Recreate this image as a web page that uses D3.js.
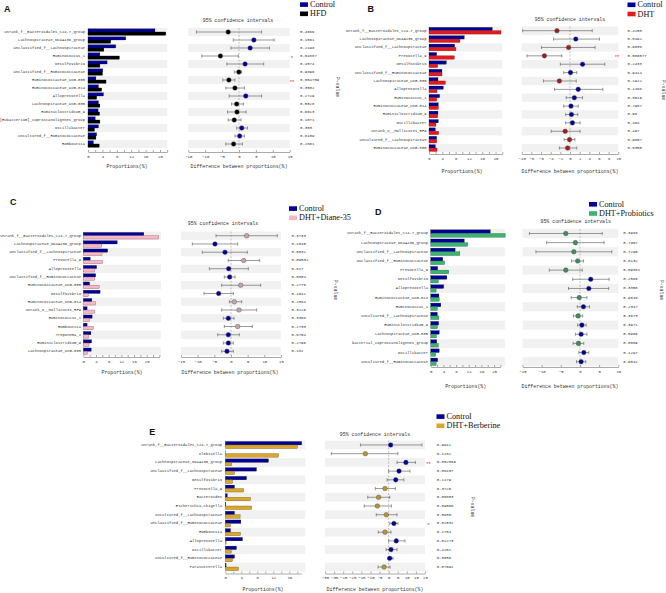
<!DOCTYPE html>
<html><head><meta charset="utf-8">
<script src="https://cdn.jsdelivr.net/npm/d3@7"></script>
<style>body{margin:0;background:#fff}svg{display:block}</style>
</head><body>
<svg id="c" width="666" height="593"></svg>
<script>
// ---------- Panel A : Control vs HFD ----------
const taxaA = ["unrank_f__Bacteroidales_S24-7_group","Lachnospiraceae_NK4A136_group","Unclassified_f__Lachnospiraceae","Ruminococcus_1","Desulfovibrio","Unclassified_f__Ruminococcaceae","Ruminococcaceae_UCG-005","Ruminococcaceae_UCG-014","Alloprevotella","Lachnospiraceae_UCG-005","Ruminiclostridium_9","[Eubacterium]_coprostanoligenes_group","Oscillibacter","uncultured_f__Ruminococcaceae","Romboutsia"];
const ctrlA = [18.6,10.5,7.7,3.3,5.3,4.1,2.2,2.9,4.3,2.9,2.8,2.0,2.9,2.4,1.5];
const hfdA  = [21.6,6.3,4.4,8.7,3.3,4.0,5.0,3.8,2.4,3.3,3.2,3.3,1.8,2.2,3.1];
const diffA = [-3.2,4.4,3.3,-5.5,1.8,-0.05,-3.0,-1.2,2.0,-0.7,-0.6,-1.4,0.8,0.2,-1.6];
const lowA  = [-12.6,-1.7,-2.4,-11.0,-3.6,-1.4,-4.8,-3.9,-2.9,-2.2,-3.4,-3.2,-0.7,-1.2,-3.9];
const highA = [6.7,10.4,9.0,-0.2,7.3,0.8,-1.2,1.6,6.7,1.3,2.1,0.6,2.5,1.6,1.0];
const pA    = ["0.4666","0.1561","0.2198","0.04887","0.4574","0.9896","0.004709","0.3502","0.2729","0.5028","0.6613","0.1071","0.303","0.8109","0.2661"];
const starA = ["","","","*","","","**","","","","","","","",""];

// ---------- Panel B : Control vs DHT ----------
const taxaB = ["unrank_f__Bacteroidales_S24-7_group","Lachnospiraceae_NK4A136_group","Unclassified_f__Lachnospiraceae","Prevotella_9","Desulfovibrio","Unclassified_f__Ruminococcaceae","Lachnospiraceae_UCG-005","Alloprevotella","Ruminococcus_1","Ruminococcaceae_UCG-014","Ruminiclostridium_9","Oscillibacter","unrank_o__Mollicutes_RF9","uncultured_f__Lachnospiraceae","Ruminococcaceae_UCG-005"];
const ctrlB = [19.0,10.6,7.7,2.3,5.2,3.9,2.7,4.3,3.2,2.8,2.7,2.8,1.9,2.3,1.9];
const dhtB  = [21.6,9.3,8.1,7.6,2.6,3.9,4.9,2.4,2.3,2.8,2.6,2.1,2.9,2.3,2.4];
const diffB = [-2.7,1.2,-0.3,-5.3,2.6,0.1,-2.2,1.7,0.9,0.2,0.3,0.5,-1.0,-0.1,-0.5];
const lowB  = [-9.8,-3.4,-5.9,-8.9,-2.0,-1.3,-5.5,-3.2,-0.8,-1.3,-0.9,-0.9,-3.9,-1.2,-2.2];
const highB = [4.6,6.1,5.2,-1.7,7.2,1.4,1.3,6.8,2.6,1.7,1.6,2.1,2.1,1.0,1.4];
const pB    = ["0.4250","0.5492","0.9038","0.006577","0.2433","0.9414","0.1922","0.1468","0.3619","0.7967","0.96","0.464","0.497","0.9657","0.6350"];
const starB = ["","","","**","","","","","","","","","","",""];

// ---------- Panel C : Control vs DHT+Diane-35 ----------
const taxaC = ["unrank_f__Bacteroidales_S24-7_group","Lachnospiraceae_NK4A136_group","Unclassified_f__Lachnospiraceae","Prevotella_9","Alloprevotella","Unclassified_f__Ruminococcaceae","Ruminococcaceae_UCG-005","Desulfovibrio","Ruminococcaceae_UCG-014","unrank_o__Mollicutes_RF9","Ruminococcus_1","Romboutsia","Treponema_2","Ruminiclostridium_9","Lachnospiraceae_UCG-005"];
const ctrlC  = [19.1,10.7,7.7,2.2,4.2,3.9,2.0,5.3,2.7,1.2,2.8,1.2,2.4,2.6,2.5];
const dianeC = [23.8,5.8,5.9,6.1,3.6,3.6,5.0,1.6,3.9,3.6,2.0,3.2,1.6,1.8,1.3];
const diffC  = [4.7,-4.8,-1.8,3.8,-0.7,-0.4,2.9,-3.7,1.0,2.4,-0.8,2.0,-0.8,-0.8,-1.2];
const lowC   = [-4.5,-11.6,-8.6,-0.8,-6.5,-2.0,-2.8,-8.1,-0.5,-2.8,-2.3,-2.0,-4.0,-2.3,-2.8];
const highC  = [13.9,2.0,4.9,8.6,5.2,1.2,8.9,0.7,3.2,7.7,0.9,6.4,2.5,0.7,0.7];
const pC     = ["0.3733","0.1645","0.5632","0.09532","0.817","0.5804","0.2776","0.1042","0.2664","0.3226","0.3368","0.2733","0.6704","0.2796","0.182"];
const starC  = ["","","","","","","","","","","","","","",""];

// ---------- Panel D : Control vs DHT+Probiotics ----------
const taxaD = ["unrank_f__Bacteroidales_S24-7_group","Lachnospiraceae_NK4A136_group","Unclassified_f__Lachnospiraceae","Unclassified_f__Ruminococcaceae","Prevotella_9","Desulfovibrio","Alloprevotella","Ruminococcaceae_UCG-014","Ruminococcus_1","uncultured_f__Lachnospiraceae","Ruminiclostridium_9","Lachnospiraceae_UCG-005","bacterial_coprostanoligenes_group","Oscillibacter","uncultured_f__Ruminococcaceae"];
const ctrlD = [18.8,10.6,7.7,3.8,2.2,5.1,4.1,2.6,3.2,2.1,2.5,2.7,1.9,2.7,2.2];
const probD = [23.5,11.7,9.2,4.4,5.7,2.4,1.7,2.7,2.1,2.6,2.1,1.8,2.4,1.6,1.7];
const diffD = [-3.7,-1.2,-1.6,-0.6,-3.7,2.8,2.3,-0.2,0.9,-0.5,0.5,0.3,-0.4,1.0,0.3];
const lowD  = [-13.2,-8.7,-11.5,-2.2,-8.0,-1.9,-3.0,-2.3,-0.7,-1.7,-0.6,-1.2,-1.8,-0.3,-0.9];
const highD = [5.8,6.3,8.3,0.9,0.6,7.6,7.5,1.8,2.5,0.7,1.6,1.8,1.0,2.3,1.5];
const pD    = ["0.3988","0.7307","0.7295","0.6132","0.09861","0.2566","0.3358","0.9646","0.2347","0.3673","0.3971","0.6966","0.5609","0.1297","0.6041"];
const starD = ["","","","","","","","","","","","","","",""];

// ---------- Panel E : Control vs DHT+Berberine ----------
const taxaE = ["unrank_f__Bacteroidales_S24-7_group","Klebsiella","Lachnospiraceae_NK4A136_group","Unclassified_f__Lachnospiraceae","Desulfovibrio","Prevotella_9","Bacteroides","Escherichia-Shigella","uncultured_f__Lachnospiraceae","Unclassified_f__Ruminococcaceae","Romboutsia","Alloprevotella","Oscillibacter","uncultured_f__Ruminococcaceae","Parasutterella"];
const ctrlE = [19.1,0.05,10.8,7.8,5.3,2.3,0.5,0.15,2.3,3.9,1.3,4.3,2.8,2.3,0.2];
const berbE = [18.0,13.3,1.6,2.3,1.8,4.6,6.3,6.6,3.7,1.3,3.8,0.2,1.5,1.8,3.3];
const diffE = [1.1,-12.8,9.5,5.7,3.9,-2.0,-5.5,-6.2,-1.3,2.9,-2.0,4.2,1.3,0.6,-2.5];
const lowE  = [-15.5,-31.5,4.6,0.0,-0.9,-7.3,-11.5,-13.4,-6.8,0.6,-5.7,0.0,-1.4,-0.5,-5.8];
const highE = [18.3,5.1,14.7,11.7,8.4,3.7,0.6,1.5,4.6,5.1,1.3,9.0,4.6,2.4,0.8];
const pE    = ["0.9911","0.1132","0.002589","0.06157","0.1179","0.3726","0.06853","0.09066","0.5635","0.02532","0.1704","0.02273","0.4251","0.5036","0.07691"];
const starE = ["","","**","","","","","","","*","","","","",""];

const groupNames = ["HFD","DHT","DHT+Diane-35","DHT+Probiotics","DHT+Berberine"];

// ---------- drawing ----------
const svg = d3.select("#c");
const MONO = "'Liberation Mono','DejaVu Sans Mono',monospace";
const SERIF = "'Liberation Serif','Times New Roman',serif";
const SANS = "'Liberation Sans',Arial,sans-serif";
const CTRL = "#000099";
const TXT = "#333";

function panel(L, D) {
  const g = svg.append("g");
  const n = D.taxa.length;
  const y = d3.scaleBand().domain(d3.range(n)).range([L.top, L.bottom]);
  const bw = y.bandwidth();
  const cy = i => y(i) + bw / 2;
  const x = d3.scaleLinear().domain([0, L.axisMax]).range([L.barX0, L.barX0 + L.axisMax * L.ppu]);
  const xc = d3.scaleLinear().domain(L.ciDom).range(L.ciRange);
  const stripes = d3.range(0, n, 2);

  g.append("g").selectAll("rect").data(stripes).join("rect")
    .attr("x", x(0)).attr("width", x(L.bgMax) - x(0))
    .attr("y", i => y(i)).attr("height", bw).attr("fill", "#f1f1f1");
  g.append("g").selectAll("rect").data(stripes).join("rect")
    .attr("x", xc.range()[0]).attr("width", xc.range()[1] - xc.range()[0])
    .attr("y", i => y(i)).attr("height", bw).attr("fill", "#f1f1f1");

  const bh = bw * 0.4;
  g.append("g").selectAll("rect").data(D.ctrl).join("rect")
    .attr("x", x(0)).attr("y", (d, i) => cy(i) - bh)
    .attr("width", d => x(d) - x(0)).attr("height", bh)
    .attr("fill", CTRL).attr("stroke", "#111").attr("stroke-width", 0.25);
  g.append("g").selectAll("rect").data(D.grp).join("rect")
    .attr("x", x(0)).attr("y", (d, i) => cy(i))
    .attr("width", d => x(d) - x(0)).attr("height", bh)
    .attr("fill", D.color).attr("stroke", D.stroke).attr("stroke-width", 0.35);

  g.append("g").selectAll("text").data(D.taxa).join("text")
    .attr("x", L.labelX).attr("y", (d, i) => cy(i))
    .attr("text-anchor", "end").attr("dominant-baseline", "central")
    .attr("font-family", MONO).attr("font-size", 3.85).attr("fill", TXT)
    .text(d => d);

  const ax = d3.axisBottom(x)
    .tickValues(d3.range(0, L.axisMax + 0.01, 2))
    .tickFormat(d => (d % 4 === 0 && d <= L.labelMax) ? d : "")
    .tickSizeInner(-2).tickSizeOuter(0).tickPadding(3);
  const axg = g.append("g").attr("transform", `translate(0,${L.axisY})`).call(ax)
    .attr("font-family", MONO).attr("font-size", 4);
  axg.selectAll("path,line").attr("stroke", "#555").attr("stroke-width", 0.5);
  axg.selectAll("text").attr("fill", TXT);

  const cax = d3.axisBottom(xc)
    .tickValues(d3.range(L.ciDom[0], L.ciDom[1] + 0.01, L.ciStep))
    .tickSizeInner(-2).tickSizeOuter(0).tickPadding(3);
  const caxg = g.append("g").attr("transform", `translate(0,${L.axisY})`).call(cax)
    .attr("font-family", MONO).attr("font-size", 4);
  caxg.selectAll("path,line").attr("stroke", "#555").attr("stroke-width", 0.5);
  caxg.selectAll("text").attr("fill", TXT);

  g.append("line").attr("x1", xc(0)).attr("x2", xc(0))
    .attr("y1", L.top).attr("y2", L.bottom)
    .attr("stroke", "#888").attr("stroke-width", 0.5).attr("stroke-dasharray", "2,1.5");

  const idx = d3.range(n);
  g.append("g").selectAll("line").data(idx).join("line")
    .attr("x1", i => xc(D.low[i])).attr("x2", i => xc(D.high[i]))
    .attr("y1", cy).attr("y2", cy).attr("stroke", "#555").attr("stroke-width", 0.6);
  const caps = idx.flatMap(i => [{i, v: D.low[i]}, {i, v: D.high[i]}]);
  g.append("g").selectAll("line").data(caps).join("line")
    .attr("x1", d => xc(d.v)).attr("x2", d => xc(d.v))
    .attr("y1", d => cy(d.i) - 1.6).attr("y2", d => cy(d.i) + 1.6)
    .attr("stroke", "#555").attr("stroke-width", 0.6);
  g.append("g").selectAll("circle").data(idx).join("circle")
    .attr("cx", i => xc(D.diff[i])).attr("cy", cy).attr("r", 2.3)
    .attr("fill", i => ((D.diff[i] > 0) === D.posCtrl) ? CTRL : D.point)
    .attr("stroke", "#444").attr("stroke-width", 0.4);

  g.append("g").selectAll("text").data(D.p).join("text")
    .attr("x", L.pX).attr("y", (d, i) => cy(i))
    .attr("dominant-baseline", "central")
    .attr("font-family", MONO).attr("font-size", 4).attr("fill", TXT).text(d => d);
  g.append("g").selectAll("text").data(D.star).join("text")
    .attr("x", L.starX).attr("y", (d, i) => cy(i) + 1.6)
    .attr("text-anchor", "middle").attr("dominant-baseline", "central")
    .attr("font-family", SANS).attr("font-size", 6).attr("fill", "#ee4455").text(d => d);

  const txt = (xx, yy, s, fs, fam, extra) => {
    const t = g.append("text").attr("x", xx).attr("y", yy)
      .attr("text-anchor", "middle").attr("dominant-baseline", "central")
      .attr("font-family", fam).attr("font-size", fs).attr("fill", TXT).text(s);
    if (extra) extra(t);
    return t;
  };
  txt(L.titleX, L.titleY, "95% confidence intervals", 4.9, MONO);
  txt(L.barLabX, L.xlabY, "Proportions(%)", 4.9, MONO);
  txt(L.ciLabX, L.xlabY, "Difference between proportions(%)", 4.9, MONO);
  txt(L.pvX, L.pvY, "P-value", 4.9, MONO, t => t.attr("transform", `rotate(90,${L.pvX},${L.pvY})`));

  g.append("text").attr("x", L.letter[0]).attr("y", L.letter[1])
    .attr("font-family", SANS).attr("font-weight", "bold").attr("font-size", 9)
    .attr("fill", "#111").text(L.name);

  const leg = [{name: "Control", color: CTRL}, {name: D.group, color: D.color}];
  g.append("g").selectAll("rect").data(leg).join("rect")
    .attr("x", L.legX).attr("y", (d, i) => L.legY[i] - 2.3)
    .attr("width", 8).attr("height", 4.6).attr("fill", d => d.color);
  g.append("g").selectAll("text").data(leg).join("text")
    .attr("x", L.legX + 10).attr("y", (d, i) => L.legY[i])
    .attr("dominant-baseline", "central")
    .attr("font-family", SERIF).attr("font-size", 8.2).attr("fill", "#111").text(d => d.name);
}

const LA = {name:"A", letter:[4,12], top:28, bottom:148, barX0:88, ppu:3.6, axisMax:22, labelMax:20, bgMax:22, axisY:152, labelX:85,
  ciRange:[188.3,289.7], ciDom:[-15,15], ciStep:5, titleX:238, titleY:20, xlabY:166, barLabX:127, ciLabX:239,
  pX:300, starX:292, legX:300, legY:[4.6,13.8], pvX:337, pvY:87};
const LB = {name:"B", letter:[367.5,12], top:26.5, bottom:152.2, barX0:429, ppu:3.33, axisMax:22, labelMax:20, bgMax:22, axisY:154, labelX:426.5,
  ciRange:[521.7,618.3], ciDom:[-10,10], ciStep:2, titleX:570, titleY:19, xlabY:171, barLabX:462, ciLabX:570,
  pX:627.5, starX:617, legX:627.5, legY:[4.8,14], pvX:663, pvY:90};
const LC = {name:"C", letter:[10,205], top:231.6, bottom:355.4, barX0:83.3, ppu:3.17, axisMax:24, labelMax:20, bgMax:24.5, axisY:357, labelX:81,
  ciRange:[181,281], ciDom:[-15,15], ciStep:5, titleX:223, titleY:223.5, xlabY:372, barLabX:122, ciLabX:230,
  pX:291.5, starX:286, legX:289, legY:[208.6,217.8], pvX:335, pvY:290};
const LD = {name:"D", letter:[375,215], top:228.9, bottom:366.3, barX0:430.7, ppu:3.17, axisMax:22, labelMax:20, bgMax:23.5, axisY:367, labelX:428,
  ciRange:[522.5,618.3], ciDom:[-15,10], ciStep:5, titleX:575.7, titleY:221.5, xlabY:386, barLabX:465.7, ciLabX:570,
  pX:623.3, starX:619, legX:589, legY:[204.3,213.5], pvX:661.7, pvY:290};
const LE = {name:"E", letter:[149.3,435], top:440.6, bottom:571.4, barX0:225.3, ppu:4.0, axisMax:19, labelMax:16, bgMax:20, axisY:573.5, labelX:222,
  ciRange:[325,425], ciDom:[-35,20], ciStep:5, titleX:375, titleY:434, xlabY:589, barLabX:263, ciLabX:375,
  pX:436.7, starX:428.5, legX:436.5, legY:[416.6,425.8], pvX:472, pvY:507};

panel(LA, {taxa:taxaA, ctrl:ctrlA, grp:hfdA, diff:diffA, low:lowA, high:highA, p:pA, star:starA,
  group:groupNames[0], color:"#000000", stroke:"#000", point:"#000000", posCtrl:true});
panel(LB, {taxa:taxaB, ctrl:ctrlB, grp:dhtB, diff:diffB, low:lowB, high:highB, p:pB, star:starB,
  group:groupNames[1], color:"#e41a1c", stroke:"#8b1010", point:"#a11d1d", posCtrl:true});
panel(LC, {taxa:taxaC, ctrl:ctrlC, grp:dianeC, diff:diffC, low:lowC, high:highC, p:pC, star:starC,
  group:groupNames[2], color:"#f6b8c4", stroke:"#8a4a55", point:"#c9a2a7", posCtrl:false});
panel(LD, {taxa:taxaD, ctrl:ctrlD, grp:probD, diff:diffD, low:lowD, high:highD, p:pD, star:starD,
  group:groupNames[3], color:"#3cb371", stroke:"#1f6b40", point:"#3e8e5e", posCtrl:true});
panel(LE, {taxa:taxaE, ctrl:ctrlE, grp:berbE, diff:diffE, low:lowE, high:highE, p:pE, star:starE,
  group:groupNames[4], color:"#d9a62e", stroke:"#6b5210", point:"#b8962e", posCtrl:true});
</script>
</body></html>
